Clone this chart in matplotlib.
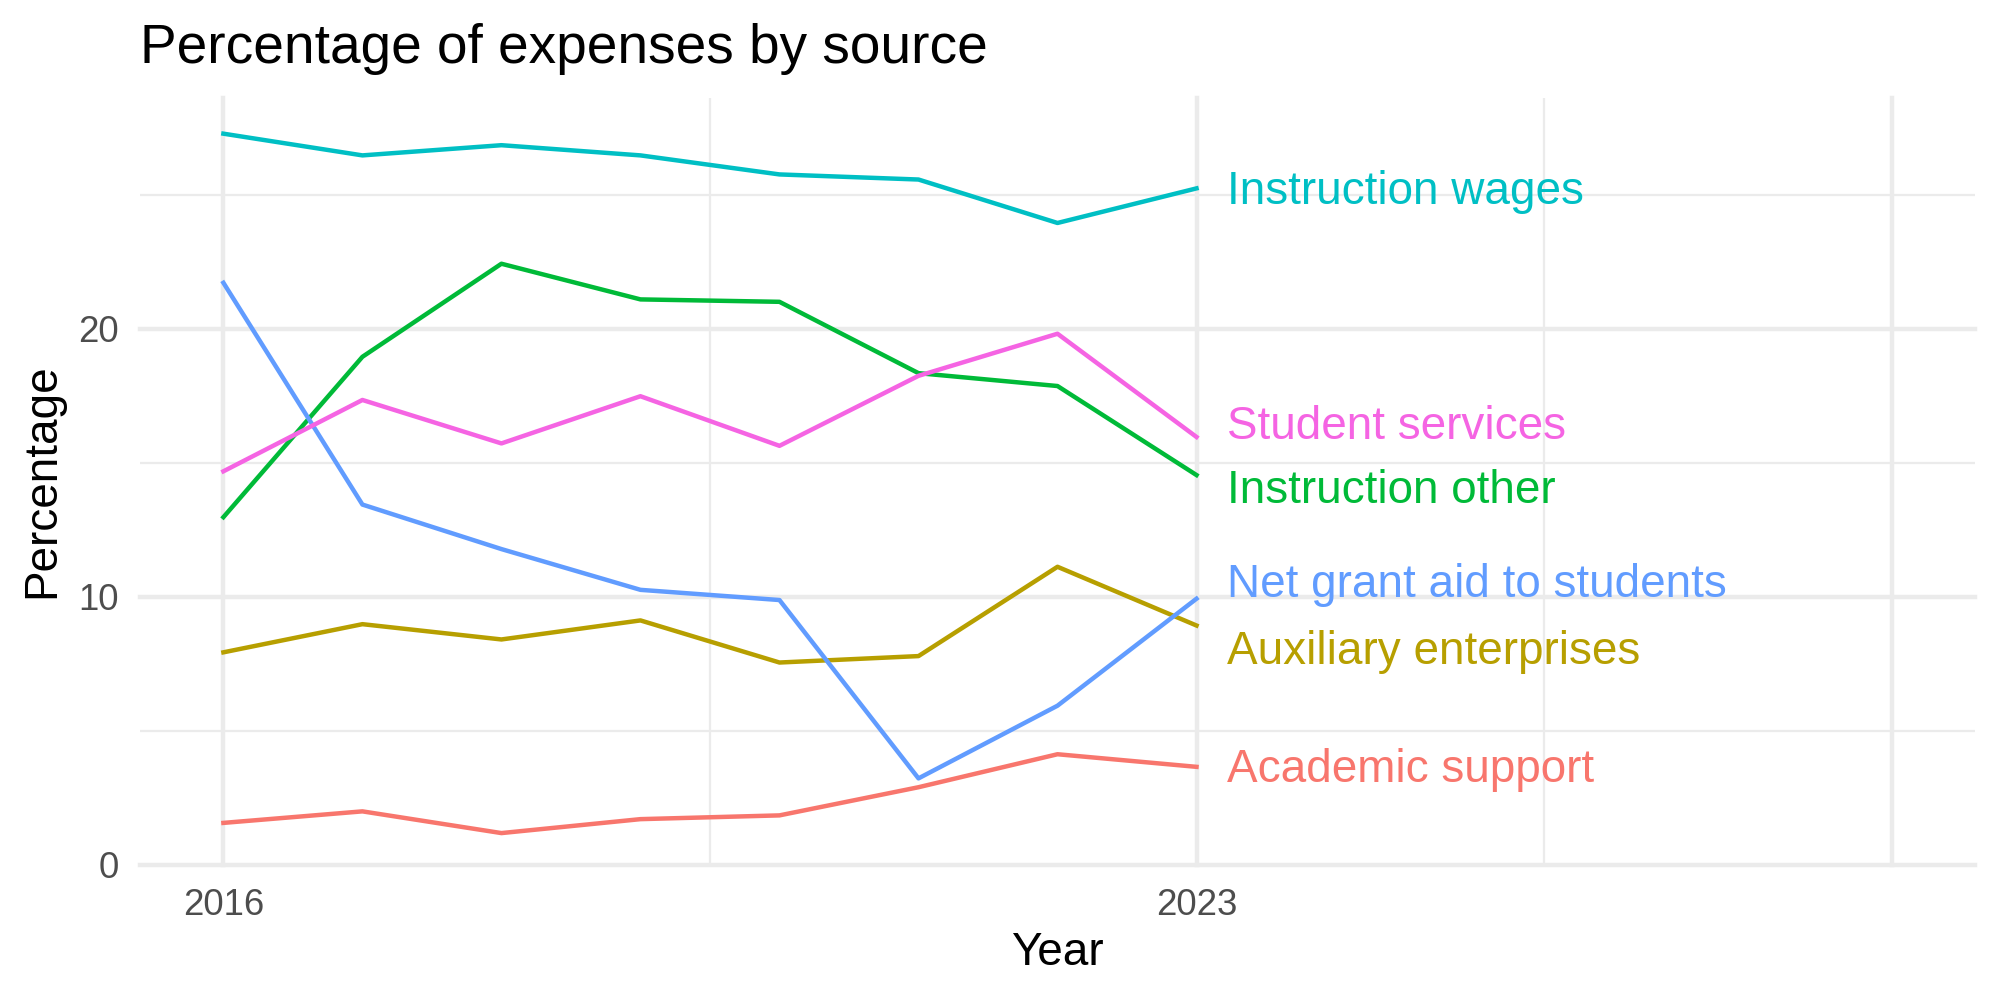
import matplotlib
matplotlib.use("Agg")
import matplotlib.pyplot as plt
import matplotlib.transforms as mtransforms

plt.rcParams["font.family"] = ["Liberation Sans", "DejaVu Sans"]

years = [2016, 2017, 2018, 2019, 2020, 2021, 2022, 2023]

sources = [
    "Academic support",
    "Auxiliary enterprises",
    "Instruction other",
    "Instruction wages",
    "Net grant aid to students",
    "Student services",
]

academic_support = [1.57, 2.00, 1.19, 1.71, 1.85, 2.90, 4.13, 3.66]
auxiliary_enterprises = [7.93, 8.98, 8.41, 9.12, 7.55, 7.79, 11.12, 8.93]
instruction_other = [12.97, 18.95, 22.42, 21.09, 21.00, 18.34, 17.86, 14.54]
instruction_wages = [27.27, 26.46, 26.84, 26.46, 25.75, 25.56, 23.94, 25.23]
net_grant_aid = [21.71, 13.44, 11.78, 10.26, 9.88, 3.23, 5.94, 9.93]
student_services = [14.68, 17.34, 15.72, 17.48, 15.63, 18.24, 19.81, 15.96]

values = [academic_support, auxiliary_enterprises, instruction_other,
          instruction_wages, net_grant_aid, student_services]

# ggplot hue palette, 6 levels
colors = ["#F8766D", "#B79F00", "#00BA38", "#00BFC4", "#619CFF", "#F564E3"]

# label heights after repel (centre of capitals, in data units)
label_y = [3.6, 8.0, 14.0, 25.16, 10.5, 16.4]
label_x = 2023.22

fig = plt.figure(figsize=(2000 / 300, 1000 / 300), dpi=300)
ax = fig.add_axes([0.07, 0.135, 0.9175, 0.767])

grid = "#EBEBEB"
ax.set_xlim(2015.4, 2028.6)
ax.set_ylim(0, 28.6)
ax.set_xticks([2016, 2023, 2028])
ax.set_xticklabels(["2016", "2023", ""])
ax.set_xticks([2019.5, 2025.5], minor=True)
ax.set_yticks([0, 10, 20])
ax.set_yticks([5, 15, 25], minor=True)
ax.grid(which="major", color=grid, linewidth=1.07)
ax.grid(which="minor", color=grid, linewidth=0.53)
for gl in ax.get_xgridlines() + ax.get_ygridlines():
    gl.set_clip_on(False)
ax.set_axisbelow(True)
ax.tick_params(which="both", length=0, labelsize=8.8, labelcolor="#4D4D4D")
ax.tick_params(axis="x", pad=5.5)
ax.tick_params(axis="y", pad=5)
for s in ax.spines.values():
    s.set_visible(False)

for name, vals, col, ly in zip(sources, values, colors, label_y):
    ax.plot(years, vals, color=col, linewidth=1.07, solid_joinstyle="round")
    off = mtransforms.offset_copy(ax.transData, fig=fig, x=0, y=-3.3, units="points")
    ax.text(label_x, ly, name, color=col, fontsize=11, ha="left", va="baseline",
            transform=off, clip_on=False)

fig.text(0.07, 0.937, "Percentage of expenses by source", fontsize=13.2, ha="left", va="baseline")
fig.text(0.5285, 0.035, "Year", fontsize=11, ha="center", va="baseline")
fig.text(0.021, 0.519, "Percentage", fontsize=11, ha="center", va="center", rotation=90)

fig.savefig("out.png", dpi=300)
